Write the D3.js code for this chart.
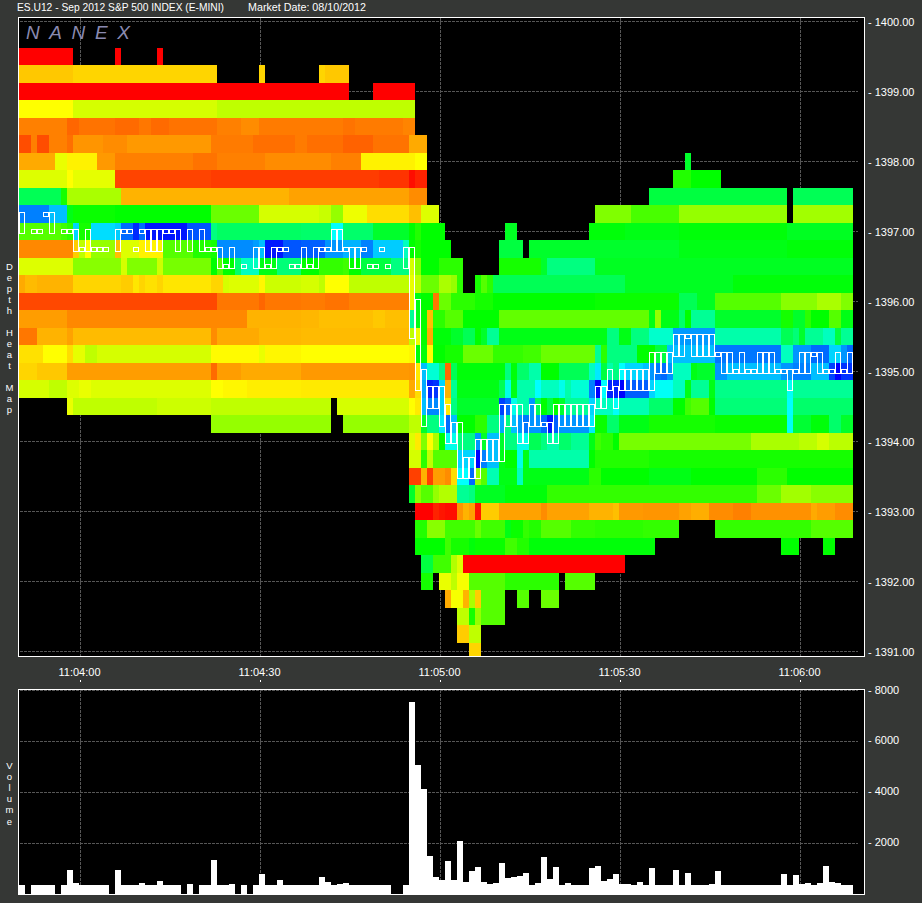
<!DOCTYPE html>
<html><head><meta charset="utf-8">
<style>
html,body{margin:0;padding:0;background:#353735;}
svg{display:block;}
text{font-family:"Liberation Sans",Arial,sans-serif;font-size:11px;fill:#fff;}
</style>
<script src="https://cdnjs.cloudflare.com/ajax/libs/d3/7.8.5/d3.min.js"></script>
</head><body>
<svg id="c" width="922" height="903"></svg>
<script>
const titleText = "ES.U12 - Sep 2012 S&P 500 INDEX (E-MINI)";
const marketDate = "Market Date: 08/10/2012";
const priceTicks = [1400,1399,1398,1397,1396,1395,1394,1393,1392,1391];
const volumeTicks = [8000,6000,4000,2000];
const timeTickSeconds = [10,40,70,100,130];
const timeTickLabels = ["11:04:00","11:04:30","11:05:00","11:05:30","11:06:00"];
const secondsShown = 139;

// Book levels, top to bottom, one per 0.25 point
const levelPrices = [1399.5,1399.25,1399,1398.75,1398.5,1398.25,1398,1397.75,1397.5,1397.25,1397,1396.75,1396.5,1396.25,1396,1395.75,1395.5,1395.25,1395,1394.75,1394.5,1394.25,1394,1393.75,1393.5,1393.25,1393,1392.75,1392.5,1392.25,1392,1391.75,1391.5,1391.25,1391];
// Depth heat per level as seconds:heat runs ("-" = empty book)
const levelHeat = [
"9:0 7:- 1:0 6:- 1:0",
"9:47 24:50 7:- 1:50 9:- 1:50 4:47",
"55:0 4:- 7:0",
"9:60 24:70 33:75",
"8:30 2:24 6:27 4:25 2:28 3:25 8:27 4:30 3:33 14:29 2:27 8:29 2:31",
"2:18 1:30 2:18 3:30 1:26 5:35 4:33 14:36 7:29 7:26 2:29 6:26 5:23 6:27 3:40",
"6:40 2:65 5:57 3:36 13:30 4:27 8:30 11:33 5:30 9:57 2:60 43:- 1:130",
"8:68 1:60 7:66 16:16 28:14 5:12 1:3 2:8 41:- 3:112 5:120",
"7:140 1:115 9:80 28:42 20:38 3:33 37:- 23:135 1:- 10:140",
"5:210 3:195 1:125 7:118 16:120 8:95 10:70 2:73 2:85 4:64 7:52 2:45 3:68 26:- 6:90 8:103 18:85 1:- 10:82",
"7:100 1:105 1:110 1:190 2:115 4:188 1:192 2:215 1:230 1:215 7:235 4:220 1:150 14:143 5:145 2:180 5:145 6:130 1:120 1:112 4:120 10:- 2:128 12:- 6:122 9:125 18:122 11:128",
"9:32 1:48 1:75 1:60 4:85 1:45 3:68 4:57 5:100 3:112 1:115 6:207 1:203 1:195 3:235 3:220 4:218 3:205 3:198 2:210 5:192 1:165 1:120 1:115 5:120 8:- 4:135 1:- 25:130 18:125 11:122",
"9:68 8:88 1:70 5:90 1:72 8:92 1:120 1:100 2:120 1:145 3:165 1:125 2:125 4:148 3:120 4:108 1:105 2:120 5:135 3:150 1:70 1:88 3:120 4:110 6:- 7:115 1:130 8:150 43:128",
"1:40 2:44 6:42 8:50 2:48 1:54 1:50 2:53 1:50 8:54 2:50 1:70 5:68 1:58 6:72 3:70 1:75 4:60 10:75 1:65 1:75 3:95 2:80 1:85 1:110 2:- 1:115 1:100 1:110 22:140 18:128 20:122",
"33:17 7:28 1:24 6:28 4:29 4:27 10:30 1:65 1:125 2:120 1:28 2:95 4:110 3:115 17:120 14:118 3:140 3:128 11:100 6:88 4:80 2:90",
"8:37 25:32 5:32 9:42 3:43 9:45 2:47 4:45 1:155 1:125 1:120 1:45 2:110 3:100 6:120 25:97 1:125 1:85 3:125 1:145 1:120 4:155 11:130 2:115 2:130 1:110 3:120 2:100 2:125",
"3:28 5:42 1:38 23:44 1:33 7:40 7:43 18:44 1:75 1:65 1:120 1:40 3:122 2:130 2:140 1:120 1:130 2:155 18:125 2:150 2:125 3:150 4:168 7:204 11:160 2:140 1:148 1:130 3:155 2:165 1:135 2:155",
"4:53 4:60 1:52 2:66 2:75 19:70 8:59 1:65 6:58 18:60 1:58 2:122 1:60 2:120 3:115 5:95 5:108 3:105 9:95 1:155 1:110 5:150 3:120 2:135 8:195 11:212 2:165 3:205 3:215 2:190 1:205 1:215",
"3:50 5:47 24:37 1:25 4:37 10:40 18:36 1:35 1:55 1:195 2:170 1:150 1:25 1:140 8:122 1:150 1:122 2:145 2:160 3:120 5:140 1:165 1:185 1:135 1:160 1:150 1:180 3:190 1:195 1:205 1:212 1:215 1:205 3:165 1:125 3:130 2:205 9:195 2:205 3:210 3:195 1:225 1:240 2:228",
"5:70 3:75 2:68 2:65 20:68 2:60 4:58 9:56 18:55 1:40 1:52 1:200 1:232 1:228 1:190 1:42 1:155 7:125 1:140 1:175 1:125 3:160 1:180 3:165 1:175 1:160 3:170 1:210 1:240 1:180 2:232 1:240 4:218 1:190 3:178 2:165 1:125 3:155 1:125 12:152 1:178 10:155",
"8:- 1:65 14:75 9:72 20:75 1:- 12:70 1:60 1:55 1:195 2:208 1:190 1:55 1:150 7:130 1:225 1:215 1:175 2:160 1:205 1:140 1:120 1:135 1:120 1:130 4:155 1:190 3:165 1:178 5:162 4:145 2:120 1:105 3:100 1:120 12:148 1:180 10:145",
"32:- 20:85 2:- 11:85 2:75 1:130 2:150 1:185 1:215 1:195 3:120 2:110 2:150 1:200 1:150 1:195 1:205 1:212 2:205 1:215 1:235 1:218 5:205 1:185 2:118 2:145 5:125 11:115 12:118 1:178 3:132 3:122 2:145 2:130",
"65:- 1:68 1:55 1:90 1:60 1:80 1:120 2:175 3:150 1:205 1:130 2:195 1:130 2:150 2:175 2:140 1:150 2:160 2:145 3:155 1:125 1:105 2:110 1:120 22:92 8:80 3:76 2:70 4:76",
"65:- 2:70 1:110 1:75 4:100 3:190 1:240 1:210 2:195 1:125 2:120 1:175 1:125 10:160 1:120 9:112 34:115",
"65:- 2:15 1:42 1:15 2:37 1:33 1:52 2:180 1:215 1:85 1:100 2:162 3:125 1:165 11:125 2:110 8:120 7:125 11:120 5:110 11:120",
"65:- 1:130 1:88 2:100 1:85 3:78 2:155 1:150 5:128 7:122 17:108 18:108 4:95 5:82 7:88",
"66:- 3:0 1:8 1:5 2:3 1:35 1:42 1:38 1:5 3:48 7:38 1:33 7:38 4:42 1:45 4:36 6:35 2:38 3:41 4:33 3:30 10:34 1:40 3:37 3:33",
"66:- 2:112 3:88 5:105 1:95 4:105 1:125 2:118 1:108 2:112 5:100 4:108 8:110 6:108 6:- 16:108 7:100",
"66:- 5:120 1:105 3:115 1:122 5:118 2:105 2:112 21:122 21:- 3:120 4:- 2:120",
"67:- 2:135 3:105 1:78 1:68 27:0",
"67:- 2:115 1:- 2:65 1:75 2:62 6:100 9:110 1:- 5:100",
"71:- 1:40 2:62 1:42 1:80 1:48 4:100 2:- 2:100 2:- 3:95",
"73:- 2:75 1:115 1:85 4:100",
"73:- 2:48 2:75",
"75:- 2:50"
];

// Highest and lowest traded price per second (null = no trade)
const tradeHigh = [1397.25,null,1397,1397,1397.25,1397.25,null,1397,1397,1397,
1396.75,1397,1396.75,1396.75,1396.75,null,1397,1397,1397,1396.75,
1397,1397,1397,1397,1397,1397,1397,null,1397,null,
1397,1396.75,1396.75,1396.75,1396.5,1396.75,null,1396.5,null,1396.75,
1396.75,1396.5,1396.75,1396.75,1396.75,1396.5,1396.5,1396.75,1396.5,1396.75,
1396.75,1396.75,1397,1397,1396.75,1396.75,1396.75,1396.75,1396.5,1396.5,
1396.75,1396.5,null,null,1396.75,1396.75,1396,1395,1394.75,1394.75,
1394.75,1394.5,1394.25,1394.25,1393.75,1393.75,1394,1394,1394,1394,
1394.5,1394.5,1394.5,1394.5,1394.25,1394.5,1394.5,1394.25,1394.25,1394.5,
1394.5,1394.5,1394.5,1394.5,1394.5,1394.5,1394.75,1394.75,1395,1394.75,
1395,1395,1395,1395,1395,1395.25,1395.25,1395.25,1395.25,1395.5,
1395.5,1395.5,1395.5,1395.5,1395.5,1395.5,1395.25,1395.25,1395.25,1395,
1395.25,1395,1395,1395.25,1395.25,1395.25,1395,1395,1395,1395,
1395.25,1395.25,1395.25,1395.25,1395,1395,1395.25,1395,1395.25];
const tradeLow = [1397,null,1397,1397,1397.25,1397,null,1397,1397,1396.75,
1396.75,1396.75,1396.75,1396.75,1396.75,null,1396.75,1397,1397,1396.75,
1397,1396.75,1396.75,1396.75,1397,1397,1396.75,null,1396.75,null,
1396.75,1396.75,1396.75,1396.5,1396.5,1396.5,null,1396.5,null,1396.5,
1396.5,1396.5,1396.5,1396.75,1396.75,1396.5,1396.5,1396.5,1396.5,1396.5,
1396.75,1396.75,1396.75,1396.75,1396.75,1396.5,1396.5,1396.75,1396.5,1396.5,
1396.75,1396.5,null,null,1396.5,1395.5,1394.75,1394.25,1394.5,1394.5,
1394.25,1394,1394,1393.5,1393.5,1393.5,1393.5,1393.75,1393.75,1393.75,
1393.75,1394.25,1394.25,1394,1394,1394.25,1394.25,1394.25,1394,1394,
1394.25,1394.25,1394.25,1394.25,1394.25,1394.25,1394.5,1394.5,1394.75,1394.5,
1394.75,1394.75,1394.75,1394.75,1394.75,1394.75,1395,1395,1395,1395.25,
1395.25,1395.5,1395.25,1395.25,1395.25,1395.25,1395.25,1395,1395,1395,
1395,1395,1395,1395,1395,1395,1395,1395,1394.75,1395,
1395,1395,1395.25,1395,1395,1395,1395,1395,1395];

// Contracts traded per second
const volumePerSecond = [365,0,365,365,365,365,0,365,953,443,
365,365,365,365,365,0,953,365,365,365,
443,365,365,522,365,365,365,0,404,0,
365,365,1345,365,365,404,0,365,0,365,
796,365,365,561,365,365,365,365,365,365,
678,483,365,404,443,365,365,365,365,365,
365,365,0,0,365,7541,5070,4129,1502,678,
561,1306,561,2090,483,914,1071,483,404,443,
1227,639,678,717,835,365,443,1463,600,1071,
365,443,365,365,365,1031,1110,522,600,796,
404,404,365,483,365,1031,365,365,365,953,
365,835,365,365,365,404,914,365,365,365,
365,365,365,365,365,365,365,796,365,757,
404,443,365,443,1110,483,443,365,365];

const depthLabel = "Depth Heat Map";
const volumeLabel = "Volume";

const PANE = {left:18.5,right:864.5,top:17.5,bottom:656.5,vTop:689.5,vBottom:894.5};
const GRID = "#565656";

const svg = d3.select("#c");
const x = d3.scaleLinear().domain([0,secondsShown]).range([19,853]);
const y = d3.scaleLinear().domain([1391,1400]).range([651.5,21.5]);
const yVol = d3.scaleLinear().domain([0,8000]).range([894,690.5]);
const heatColor = h => d3.hsl(h,1,0.5).formatHex();

svg.append("rect").attr("x",PANE.left).attr("y",PANE.top).attr("width",PANE.right-PANE.left).attr("height",PANE.bottom-PANE.top).attr("fill","#000");
svg.append("rect").attr("x",PANE.left).attr("y",PANE.vTop).attr("width",PANE.right-PANE.left).attr("height",PANE.vBottom-PANE.vTop).attr("fill","#000");

const defs = svg.append("defs");
defs.append("clipPath").attr("id","topClip").append("rect").attr("x",19).attr("y",18).attr("width",845).attr("height",638);

// Grid
const gridTop = svg.append("g").attr("stroke",GRID).attr("stroke-dasharray","3 1").attr("shape-rendering","crispEdges");
gridTop.selectAll(".h").data(priceTicks).join("line").attr("x1",20).attr("x2",858)
  .attr("y1",d=>Math.floor(y(d))+.5).attr("y2",d=>Math.floor(y(d))+.5);
gridTop.selectAll(".v").data(timeTickSeconds).join("line")
  .attr("x1",d=>x(d)+1.5).attr("x2",d=>x(d)+1.5).attr("y1",18).attr("y2",656);
const gridBot = svg.append("g").attr("stroke",GRID).attr("stroke-dasharray","3 1").attr("shape-rendering","crispEdges");
gridBot.selectAll(".h").data(volumeTicks).join("line").attr("x1",20).attr("x2",858)
  .attr("y1",d=>Math.floor(yVol(d))+.5).attr("y2",d=>Math.floor(yVol(d))+.5);
gridBot.selectAll(".v").data(timeTickSeconds).join("line")
  .attr("x1",d=>x(d)+1.5).attr("x2",d=>x(d)+1.5).attr("y1",690).attr("y2",894);

// Heat map
const cells = [];
levelHeat.forEach((runs,i)=>{
  let s = 0;
  runs.split(" ").forEach(r=>{
    const [n,h] = r.split(":");
    for(let k=0;k<+n;k++,s++){ if(h!=="-") cells.push({price:levelPrices[i],second:s,heat:+h}); }
  });
});
const rowTop = p => Math.round(y(p+0.125));
svg.append("g").attr("clip-path","url(#topClip)").attr("shape-rendering","crispEdges")
  .selectAll("rect").data(cells).join("rect")
  .attr("x",d=>x(d.second)).attr("width",d=>x(d.second+1)-x(d.second))
  .attr("y",d=>rowTop(d.price)).attr("height",d=>rowTop(d.price-0.25)-rowTop(d.price))
  .attr("fill",d=>heatColor(d.heat));

// Trade range boxes
const trades = tradeHigh.map((h,i)=>({second:i,high:h,low:tradeLow[i]})).filter(d=>d.high!==null);
const boxTop = p => Math.floor(y(p)-2)+.5;
svg.append("g").attr("clip-path","url(#topClip)").attr("shape-rendering","crispEdges")
  .selectAll("rect").data(trades).join("rect")
  .attr("x",d=>x(d.second)+.5).attr("width",x(1)-x(0)-1)
  .attr("y",d=>boxTop(d.high)).attr("height",d=>boxTop(d.low)-boxTop(d.high)+4)
  .attr("fill","none").attr("stroke","#fff");

// Volume bars
svg.append("g").attr("shape-rendering","crispEdges")
  .selectAll("rect").data(volumePerSecond.map((v,i)=>({second:i,v}))).join("rect")
  .attr("x",d=>x(d.second)).attr("width",x(1)-x(0))
  .attr("y",d=>Math.round(yVol(d.v))).attr("height",d=>yVol(0)-Math.round(yVol(d.v)))
  .attr("fill","#fff");

// Pane borders
[[PANE.top,PANE.bottom],[PANE.vTop,PANE.vBottom]].forEach(([t,b])=>{
  svg.append("rect").attr("x",PANE.left).attr("y",t).attr("width",PANE.right-PANE.left).attr("height",b-t)
    .attr("fill","none").attr("stroke","#fff").attr("shape-rendering","crispEdges");
});

// Axes
const axisStyle = g=>{ g.select(".domain").remove(); g.selectAll("text").attr("fill","#fff").style("font-size","11px"); };
svg.append("g").attr("transform","translate(868,0)")
  .call(d3.axisRight(y).tickValues(priceTicks).tickSize(0).tickPadding(0).tickFormat(d=>"- "+d.toFixed(2)))
  .call(axisStyle);
svg.append("g").attr("transform","translate(868,-1)")
  .call(d3.axisRight(yVol).tickValues(volumeTicks).tickSize(0).tickPadding(0).tickFormat(d=>"- "+d))
  .call(axisStyle);
svg.append("g").attr("transform","translate(0,668)")
  .call(d3.axisBottom(x).tickValues(timeTickSeconds).tickSize(0).tickPadding(0).tickFormat((d,i)=>timeTickLabels[i]))
  .call(axisStyle);
svg.append("g").attr("stroke","#fff").attr("shape-rendering","crispEdges")
  .selectAll("line").data(timeTickSeconds).join("line")
  .attr("x1",d=>x(d)+1.5).attr("x2",d=>x(d)+1.5).attr("y1",680).attr("y2",682);

// Titles
svg.append("text").attr("x",17).attr("y",11).attr("textLength",207).attr("lengthAdjust","spacingAndGlyphs").text(titleText);
svg.append("text").attr("x",248).attr("y",11).attr("textLength",118).attr("lengthAdjust","spacingAndGlyphs").text(marketDate);
svg.append("text").attr("x",26).attr("y",39).text("NANEX")
  .style("font-size","19px").style("font-style","italic").style("letter-spacing","9.6px").style("fill","#8a8ab0");

// Stacked side labels, one letter at a time
const stacked = (label,startY,pitch)=>{
  const letters = label.split("").map((c,i)=>({c,i})).filter(d=>d.c!==" ");
  svg.append("g").selectAll("text").data(letters).join("text")
    .attr("x",9.5).attr("y",d=>startY+d.i*pitch+3.5).attr("text-anchor","middle")
    .style("font-size","9.5px").text(d=>d.c);
};
stacked(depthLabel,266,11);
stacked(volumeLabel,765,11.2);
</script>
</body></html>
